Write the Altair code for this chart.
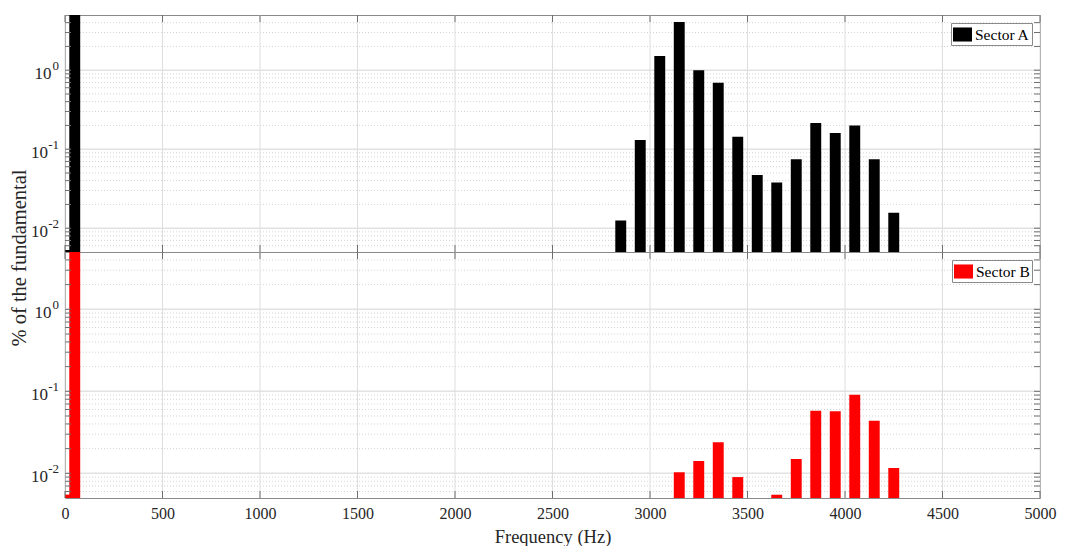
import altair as alt
import pandas as pd

# ---- data ----
freq_a = [0, 50, 2850, 2950, 3050, 3150, 3250, 3350, 3450, 3550, 3650, 3750, 3850, 3950, 4050, 4150, 4250]
pct_a = [0.0053, 100, 0.0125, 0.131, 1.51, 4.07, 1.0, 0.695, 0.144, 0.047, 0.038, 0.0745, 0.215, 0.16, 0.199, 0.0745, 0.0157]

freq_b = [0, 50, 3150, 3250, 3350, 3450, 3650, 3750, 3850, 3950, 4050, 4150, 4250]
pct_b = [0.0055, 100, 0.0103, 0.0141, 0.0239, 0.009, 0.00548, 0.015, 0.058, 0.057, 0.091, 0.0438, 0.0116]

x_ticks = [0, 500, 1000, 1500, 2000, 2500, 3000, 3500, 4000, 4500, 5000]
y_major = [1, 0.1, 0.01]
y_exps = ["0", "-1", "-2"]
y_minor = [0.006, 0.007, 0.008, 0.009,
           0.02, 0.03, 0.04, 0.05, 0.06, 0.07, 0.08, 0.09,
           0.2, 0.3, 0.4, 0.5, 0.6, 0.7, 0.8, 0.9,
           2, 3, 4]
series_names = ["Sector A", "Sector B"]
series_colors = ["#000000", "#ff0000"]
x_title = "Frequency (Hz)"
y_title = ["% of the fundamental"]

FONT = "Liberation Serif"
TXT = "#262626"
TICK = "#6e6e6e"
FRAME = "#8a8a8a"
W = 975


def panel(freqs, vals, name, color, H, bottom, with_ytitle):
    xsc = alt.Scale(domain=[0, 5000], nice=False, zero=False)
    ysc = alt.Scale(type="log", domain=[0.005, 5], nice=False)

    bars_df = pd.DataFrame({"freq": freqs, "pct": vals, "sector": [name] * len(freqs)})
    xt = pd.DataFrame({"v": x_ticks})
    ymaj = pd.DataFrame({"v": y_major, "e": y_exps})
    ymin = pd.DataFrame({"v": y_minor})
    yall = pd.DataFrame({"v": y_major + y_minor})

    if bottom:
        xaxis = alt.Axis(values=x_ticks, format="d", ticks=False, domain=False, grid=False,
                         labelFlush=False, labelOverlap=False,
                         labelFont=FONT, labelFontSize=16, labelColor=TXT, labelPadding=7,
                         title=x_title,
                         titleFont=FONT, titleFontSize=18.5, titleFontWeight="normal",
                         titleColor=TXT, titlePadding=6)
    else:
        xaxis = None

    def xe():
        return alt.X("v:Q", scale=xsc, axis=xaxis, title=x_title)

    def ye():
        return alt.Y("v:Q", scale=ysc, axis=None)

    minor_grid = alt.Chart(ymin).mark_rule(color="#d4d4d4", strokeDash=[1, 2], strokeWidth=1).encode(
        y=ye(), x=alt.value(0), x2=alt.value(W))
    major_grid = alt.Chart(ymaj).mark_rule(color="#e2e2e2", strokeWidth=1.5).encode(
        y=ye(), x=alt.value(0), x2=alt.value(W))
    x_grid = alt.Chart(xt).mark_rule(color="#dedede", strokeWidth=1).encode(
        x=xe(), y=alt.value(0), y2=alt.value(H))

    bars = alt.Chart(bars_df).transform_calculate(
        lo="datum.freq - 28", hi="datum.freq + 28", base="0.001"
    ).mark_bar(clip=True).encode(
        x=alt.X("lo:Q", scale=xsc, axis=xaxis, title=x_title),
        x2="hi:Q",
        y=alt.Y("pct:Q", scale=ysc, axis=None),
        y2="base:Q",
        color=alt.Color("sector:N", scale=alt.Scale(domain=[name], range=[color]),
                        legend=alt.Legend(orient="top-right", title=None, offset=8, padding=2,
                                          strokeColor=FRAME, fillColor="white",
                                          symbolType="M-1,-0.74L1,-0.74L1,0.74L-1,0.74Z",
                                          symbolSize=361, symbolStrokeWidth=0,
                                          labelFont=FONT, labelFontSize=15.5, labelColor="black",
                                          labelOffset=3, cornerRadius=0)),
    )

    xt_bot = alt.Chart(xt).mark_rule(color=TICK).encode(x=xe(), y=alt.value(H - 7), y2=alt.value(H))
    xt_top = alt.Chart(xt).mark_rule(color=TICK).encode(x=xe(), y=alt.value(0), y2=alt.value(7))
    yt_left = alt.Chart(yall).mark_rule(color=TICK).encode(y=ye(), x=alt.value(0), x2=alt.value(6))
    yt_right = alt.Chart(yall).mark_rule(color=TICK).encode(y=ye(), x=alt.value(W - 6), x2=alt.value(W))

    ten0 = alt.Chart(ymaj).transform_filter("datum.e == '0'").mark_text(
        align="right", baseline="alphabetic", dy=9, fontSize=17, font=FONT, color=TXT
    ).encode(y=ye(), x=alt.value(-13.5), text=alt.value("10"))
    ten1 = alt.Chart(ymaj).transform_filter("datum.e != '0'").mark_text(
        align="right", baseline="alphabetic", dy=9, fontSize=17, font=FONT, color=TXT
    ).encode(y=ye(), x=alt.value(-17), text=alt.value("10"))
    exps = alt.Chart(ymaj).mark_text(
        align="right", baseline="alphabetic", dy=0, fontSize=13, font=FONT, color=TXT
    ).encode(y=ye(), x=alt.value(-6), text="e:N")

    layers = [minor_grid, major_grid, x_grid, bars, xt_bot, xt_top, yt_left, yt_right, ten0, ten1, exps]

    if with_ytitle:
        yt = alt.Chart(pd.DataFrame({"t": y_title})).mark_text(
            angle=270, align="center", baseline="middle", fontSize=20.5, font=FONT, color=TXT
        ).encode(x=alt.value(-45), y=alt.value(243), text="t:N")
        layers.append(yt)

    return alt.layer(*layers).properties(width=W, height=H)


top = panel(freq_a, pct_a, series_names[0], series_colors[0], 237, False, True)
bot = panel(freq_b, pct_b, series_names[1], series_colors[1], 246, True, False)

chart = alt.vconcat(top, bot, spacing=0, bounds="flush").resolve_scale(
    color="independent", x="independent", y="independent"
).resolve_legend(color="independent").configure_view(
    stroke=FRAME, strokeWidth=1
).properties(
    padding={"left": 1, "top": 6, "right": 0, "bottom": 0}
)

chart.save("out.html", embed_options={"renderer": "svg", "actions": False})
